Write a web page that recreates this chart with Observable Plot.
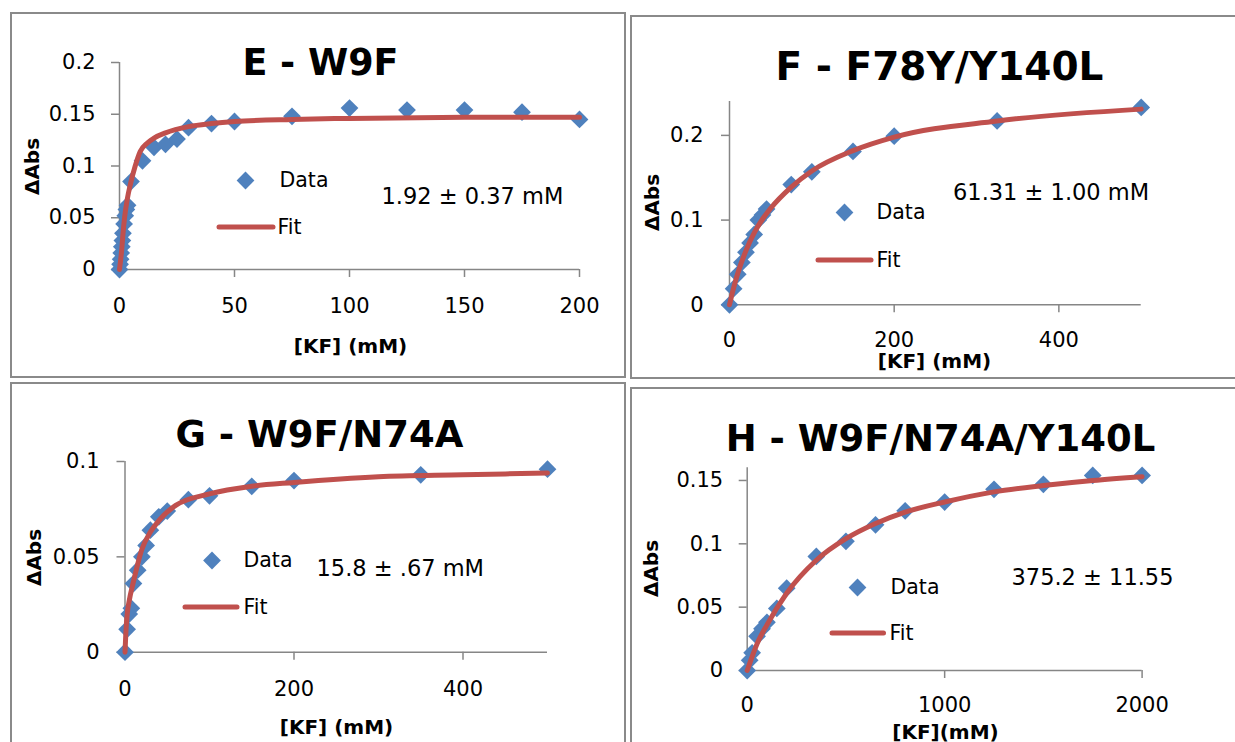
<!DOCTYPE html>
<html><head><meta charset="utf-8">
<script src="https://cdn.jsdelivr.net/npm/d3@7"></script>
<script src="https://cdn.jsdelivr.net/npm/@observablehq/plot@0.6"></script>
<style>
body{margin:0;background:#fff;overflow:hidden}
#wrap{position:relative;width:1235px;height:742px;overflow:hidden;background:#fff}
.box{position:absolute;border:2px solid #8a8a8a;box-sizing:border-box}
.pl{position:absolute;overflow:visible}
</style></head><body><div id="wrap"></div>
<script>
// ---------- Panel E ----------
const eTitle = "E - W9F";
const eNote = "1.92 ± 0.37 mM";
const eX = [0,0.25,0.5,0.75,1,1.25,1.5,2,2.5,3,3.5,5,10,15,20,25,30,40,50,75,100,125,150,175,200];
const eY = [0,0.005,0.01,0.016,0.022,0.028,0.035,0.044,0.052,0.058,0.062,0.085,0.105,0.118,0.121,0.126,0.137,0.141,0.143,0.148,0.156,0.154,0.154,0.152,0.145];
const eFitX = [0,1,1.5,2.2,3.3,4.8,6.7,9,12,15,20,30,40,50,75,100,150,200];
const eFitY = [0,0.02,0.034,0.05,0.067,0.083,0.099,0.114,0.122,0.127,0.132,0.138,0.141,0.143,0.145,0.146,0.147,0.147];
const eXTicks = [0,50,100,150,200];
const eYTicks = [0,0.05,0.1,0.15,0.2];
const eXLabel = "[KF] (mM)";

// ---------- Panel F ----------
const fTitle = "F - F78Y/Y140L";
const fNote = "61.31 ± 1.00 mM";
const fX = [0,5,10,15,20,25,30,35,40,45,75,100,150,200,325,500];
const fY = [0,0.019,0.036,0.05,0.062,0.073,0.083,0.1,0.106,0.113,0.142,0.157,0.181,0.199,0.217,0.233];
const fFitX = [0,5,10,20,30,40,50,75,100,150,200,325,500];
const fFitY = [0,0.02,0.037,0.064,0.085,0.101,0.114,0.139,0.158,0.182,0.198,0.217,0.231];
const fXTicks = [0,200,400];
const fYTicks = [0,0.1,0.2];
const fXLabel = "[KF] (mM)";

// ---------- Panel G ----------
const gTitle = "G - W9F/N74A";
const gNote = "15.8 ± .67 mM";
const gX = [0,2.5,5,7.5,10,15,20,25,30,40,50,75,100,150,200,350,500];
const gY = [0,0.012,0.02,0.023,0.036,0.043,0.05,0.056,0.064,0.071,0.074,0.08,0.082,0.087,0.09,0.093,0.096];
const gFitX = [0,1,2.6,5,10,20,30,40,60,100,150,200,300,400,500];
const gFitY = [0,0.01,0.02,0.027,0.037,0.054,0.063,0.069,0.077,0.083,0.087,0.089,0.092,0.093,0.094];
const gXTicks = [0,200,400];
const gYTicks = [0,0.05,0.1];
const gXLabel = "[KF] (mM)";

// ---------- Panel H ----------
const hTitle = "H - W9F/N74A/Y140L";
const hNote = "375.2 ± 11.55";
const hX = [0,12.5,25,50,75,100,150,200,350,500,650,800,1000,1250,1500,1750,2000];
const hY = [0,0.008,0.014,0.027,0.033,0.038,0.049,0.065,0.09,0.102,0.115,0.126,0.133,0.143,0.147,0.154,0.154];
const hFitX = [0,25,50,100,200,350,500,650,800,1000,1250,1500,1750,2000];
const hFitY = [0,0.011,0.021,0.036,0.061,0.087,0.104,0.116,0.125,0.133,0.141,0.146,0.15,0.153];
const hXTicks = [0,1000,2000];
const hYTicks = [0,0.05,0.1,0.15];
const hXLabel = "[KF](mM)";

const yLabel = "ΔAbs";
const legendData = "Data";
const legendFit = "Fit";

const BLUE = "#4F81BD", RED = "#C0504D", AXIS = "#868686", FONT = "DejaVu Sans";

const panels = [
  {title:eTitle, note:eNote, x:eX, y:eY, fx:eFitX, fy:eFitY, xTicks:eXTicks, yTicks:eYTicks, xDomain:[0,200], yDomain:[0,0.2], xLabel:eXLabel,
   L:{box:[10,12,616,366], frame:[119,579,62,269], xPad:21, yPad:16, title:[320,63], tSize:36.5, noteAt:[381,196], dia:[245,180], dataAt:[279,180], line:[219,273,227], fitAt:[277,227], xl:[350,346], yl:[32,166]}},
  {title:fTitle, note:fNote, x:fX, y:fY, fx:fFitX, fy:fFitY, xTicks:fXTicks, yTicks:fYTicks, xDomain:[0,500], yDomain:[0,0.24], xLabel:fXLabel,
   L:{box:[630,15,610,364], frame:[729,1140.7,101,304.3], xPad:19.5, yPad:18, title:[939,67], tSize:39, noteAt:[952.5,192], dia:[844,212], dataAt:[876,212], line:[818,871,260], fitAt:[876,260], xl:[934,361], yl:[652,202]}},
  {title:gTitle, note:gNote, x:gX, y:gY, fx:gFitX, fy:gFitY, xTicks:gXTicks, yTicks:gYTicks, xDomain:[0,500], yDomain:[0,0.1], xLabel:gXLabel,
   L:{box:[10,382,616,370], frame:[124.5,547,461,651.7], xPad:20.5, yPad:17.5, title:[319,435], tSize:37, noteAt:[316,568], dia:[211.5,560], dataAt:[243,560], line:[185,237,607], fitAt:[243,607], xl:[336,727], yl:[34,557]}},
  {title:hTitle, note:hNote, x:hX, y:hY, fx:hFitX, fy:hFitY, xTicks:hXTicks, yTicks:hYTicks, xDomain:[0,2000], yDomain:[0,0.16], xLabel:hXLabel,
   L:{box:[630,387,610,365], frame:[746.7,1141.6,467.3,670], xPad:19, yPad:16, title:[940,438.5], tSize:37, noteAt:[1011,577], dia:[857,587], dataAt:[890,587], line:[832,883.5,633], fitAt:[889,633], xl:[945,732], yl:[651,568]}}
];

const wrap = document.getElementById("wrap");

for (const p of panels) {
  const L = p.L;
  const [bx, by, W, H] = L.box;
  const [fx0, fx1, fyT, fyB] = L.frame;
  const box = document.createElement("div");
  box.className = "box";
  Object.assign(box.style, {left: bx+"px", top: by+"px", width: W+"px", height: H+"px"});
  wrap.appendChild(box);

  const at = (ax, ay) => ({frameAnchor: "top-left", dx: ax - fx0, dy: ay - fyT});
  const pts = p.x.map((x, i) => ({x, y: p.y[i]}));
  const fit = p.fx.map((x, i) => ({x, y: p.fy[i]}));

  const svg = Plot.plot({
    width: W, height: H,
    marginLeft: fx0 - bx, marginRight: bx + W - fx1,
    marginTop: fyT - by, marginBottom: by + H - fyB,
    x: {domain: p.xDomain, label: null},
    y: {domain: p.yDomain, label: null},
    style: {fontFamily: FONT, fontSize: "21px", background: "transparent", overflow: "visible", color: "#000"},
    marks: [
      Plot.ruleX([p.xDomain[0]], {stroke: AXIS, strokeWidth: 1.5}),
      Plot.ruleY([p.yDomain[0]], {stroke: AXIS, strokeWidth: 1.5}),
      Plot.axisX(p.xTicks, {tickSize: 8, tickPadding: L.xPad, stroke: AXIS, strokeWidth: 1.5, fill: "#000", fontSize: 21, tickFormat: d => String(d), label: null}),
      Plot.axisY(p.yTicks, {tickSize: 8, tickPadding: L.yPad, stroke: AXIS, strokeWidth: 1.5, fill: "#000", fontSize: 21, tickFormat: d => String(d), label: null}),
      Plot.dot(pts, {x: "x", y: "y", symbol: "diamond2", r: 8, fill: BLUE}),
      Plot.line(fit, {x: "x", y: "y", stroke: RED, strokeWidth: 5, curve: "monotone-x", strokeLinecap: "round"}),
      Plot.text([p.title], {...at(...L.title), fontSize: L.tSize, fontWeight: "bold", textAnchor: "middle", lineAnchor: "middle", fill: "#000"}),
      Plot.text([p.note], {...at(...L.noteAt), fontSize: 22.5, textAnchor: "start", lineAnchor: "middle", fill: "#000"}),
      Plot.dot([0], {...at(...L.dia), symbol: "diamond2", r: 8, fill: BLUE}),
      Plot.text([legendData], {...at(...L.dataAt), fontSize: 20.5, textAnchor: "start", lineAnchor: "middle", fill: "#000"}),
      Plot.text([legendFit], {...at(...L.fitAt), fontSize: 20.5, textAnchor: "start", lineAnchor: "middle", fill: "#000"}),
      Plot.text([p.xLabel], {...at(...L.xl), fontSize: 20, fontWeight: "bold", textAnchor: "middle", lineAnchor: "middle", fill: "#000"}),
      Plot.text([yLabel], {...at(...L.yl), fontSize: 20, fontWeight: "bold", textAnchor: "middle", lineAnchor: "middle", rotate: -90, fill: "#000"})
    ]
  });
  svg.classList.add("pl");
  svg.style.left = bx + "px";
  svg.style.top = by + "px";
  // legend swatch line for the Fit series
  d3.select(svg).append("line")
    .attr("x1", L.line[0] - bx).attr("x2", L.line[1] - bx)
    .attr("y1", L.line[2] - by).attr("y2", L.line[2] - by)
    .attr("stroke", RED).attr("stroke-width", 5).attr("stroke-linecap", "round");
  wrap.appendChild(svg);
}
</script></body></html>
